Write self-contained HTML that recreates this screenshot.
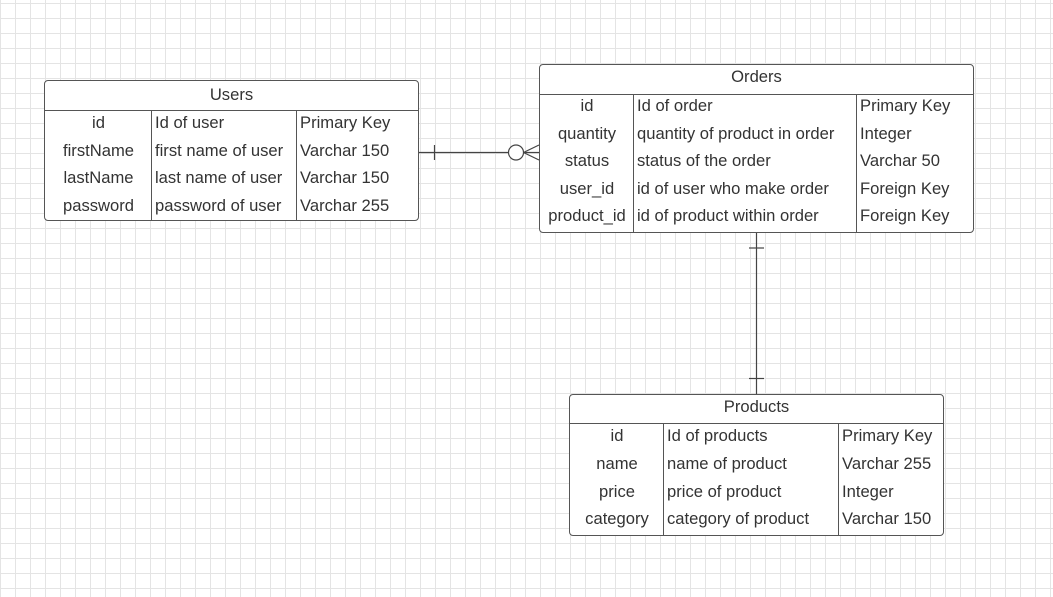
<!DOCTYPE html>
<html><head><meta charset="utf-8"><style>
body{margin:0;width:1053px;height:597px;overflow:hidden;background:#fff;font-family:"Liberation Sans",Arial,sans-serif;color:#333;}
.grid{position:absolute;left:0;top:0;width:1053px;height:597px;
background-image:linear-gradient(#e4e4e4 1px,transparent 1px),linear-gradient(90deg,#e4e4e4 1px,transparent 1px);
background-size:15px 15px;background-position:0 3px;}
.t{position:absolute;border:1px solid #555;border-radius:4px;background:#fff;box-sizing:border-box;font-size:16.6px;}
.h{text-align:center;border-bottom:1px solid #555;box-sizing:border-box;}
.r{display:flex;}
.r div{box-sizing:border-box;padding-left:3px;white-space:nowrap;}
.r div.c{text-align:center;padding-left:0}
.col{position:absolute;top:0;bottom:0;border-left:1px solid #555;}
</style></head><body>
<div class="grid"></div>

<div class="t" style="left:44px;top:80px;width:375px;height:141px;">
<div class="h" style="height:30px;line-height:28px;">Users</div>
<div class="col" style="left:106px;top:30px"></div><div class="col" style="left:251px;top:30px"></div>
<div class="r" style="height:27.5px;line-height:24px"><div class="c" style="width:107px">id</div><div style="width:145px">Id of user</div><div>Primary Key</div></div>
<div class="r" style="height:27.5px;line-height:24px"><div class="c" style="width:107px">firstName</div><div style="width:145px">first name of user</div><div>Varchar 150</div></div>
<div class="r" style="height:27.5px;line-height:24px"><div class="c" style="width:107px">lastName</div><div style="width:145px">last name of user</div><div>Varchar 150</div></div>
<div class="r" style="height:27.5px;line-height:24px"><div class="c" style="width:107px">password</div><div style="width:145px">password of user</div><div>Varchar 255</div></div>
</div>

<div class="t" style="left:539px;top:64px;width:435px;height:169px;">
<div class="h" style="height:30px;line-height:24px;">Orders</div>
<div class="col" style="left:93px;top:30px"></div><div class="col" style="left:316px;top:30px"></div>
<div class="r" style="height:27.6px;line-height:22px"><div class="c" style="width:94px">id</div><div style="width:223px">Id of order</div><div>Primary Key</div></div>
<div class="r" style="height:27.6px;line-height:22px"><div class="c" style="width:94px">quantity</div><div style="width:223px">quantity of product in order</div><div>Integer</div></div>
<div class="r" style="height:27.6px;line-height:22px"><div class="c" style="width:94px">status</div><div style="width:223px">status of the order</div><div>Varchar 50</div></div>
<div class="r" style="height:27.6px;line-height:22px"><div class="c" style="width:94px">user_id</div><div style="width:223px">id of user who make order</div><div>Foreign Key</div></div>
<div class="r" style="height:27.6px;line-height:22px"><div class="c" style="width:94px">product_id</div><div style="width:223px">id of product within order</div><div>Foreign Key</div></div>
</div>

<div class="t" style="left:569px;top:394px;width:375px;height:142px;">
<div class="h" style="height:29px;line-height:24px;">Products</div>
<div class="col" style="left:93px;top:29px"></div><div class="col" style="left:268px;top:29px"></div>
<div class="r" style="height:28px;line-height:24px"><div class="c" style="width:94px">id</div><div style="width:175px">Id of products</div><div>Primary Key</div></div>
<div class="r" style="height:27.5px;line-height:24px"><div class="c" style="width:94px">name</div><div style="width:175px">name of product</div><div>Varchar 255</div></div>
<div class="r" style="height:27.5px;line-height:24px"><div class="c" style="width:94px">price</div><div style="width:175px">price of product</div><div>Integer</div></div>
<div class="r" style="height:27.5px;line-height:24px"><div class="c" style="width:94px">category</div><div style="width:175px">category of product</div><div>Varchar 150</div></div>
</div>

<svg width="1053" height="597" style="position:absolute;left:0;top:0" fill="none" stroke="#444" stroke-width="1.2">
<line x1="419" y1="152.5" x2="508" y2="152.5"/>
<line x1="434.5" y1="145" x2="434.5" y2="160"/>
<circle cx="516" cy="152.5" r="7.5" fill="#fff"/>
<line x1="523.5" y1="152.5" x2="539" y2="152.5"/>
<line x1="523.5" y1="152.5" x2="539" y2="145"/>
<line x1="523.5" y1="152.5" x2="539" y2="160"/>
<line x1="756.5" y1="233" x2="756.5" y2="394"/>
<line x1="749" y1="248" x2="764" y2="248"/>
<line x1="749" y1="378.5" x2="764" y2="378.5"/>
</svg>
</body></html>
